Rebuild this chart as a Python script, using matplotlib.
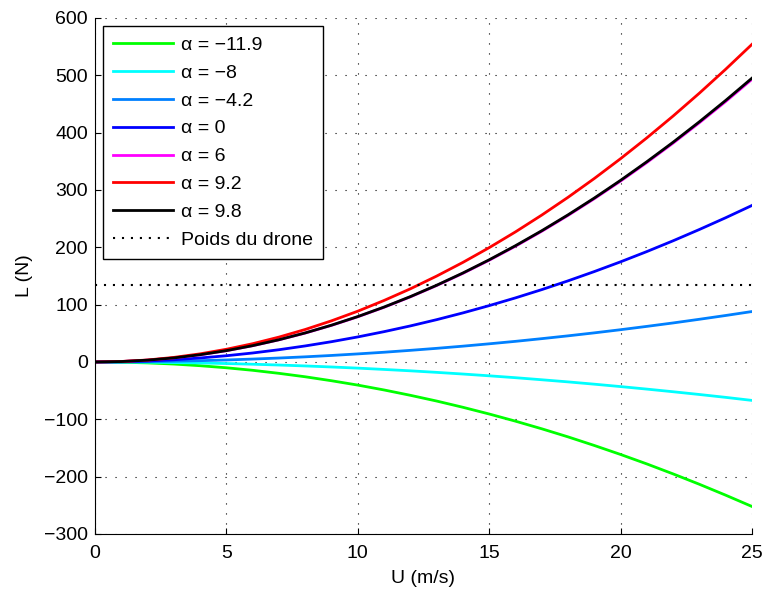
import numpy as np
import matplotlib
matplotlib.use('Agg')
import matplotlib.pyplot as plt

plt.rcParams['font.family'] = ['Liberation Sans', 'DejaVu Sans']

# vitesse (m/s)
U = list(range(0, 26))

L_m119 = [0, -0.4, -1.6, -3.6, -6.5, -10.1, -14.5, -19.8, -25.8, -32.7, -40.3, -48.8, -58.1,
          -68.1, -79.0, -90.7, -103.2, -116.5, -130.6, -145.6, -161.3, -177.8, -195.2,
          -213.3, -232.3, -252.0]
L_m8 = [0, -0.1, -0.4, -1.0, -1.7, -2.7, -3.9, -5.3, -6.9, -8.7, -10.7, -13.0, -15.4, -18.1,
        -21.0, -24.1, -27.4, -31.0, -34.7, -38.7, -42.9, -47.3, -51.9, -56.7, -61.7, -67.0]
L_m42 = [0, 0.1, 0.6, 1.3, 2.3, 3.5, 5.1, 6.9, 9.0, 11.4, 14.1, 17.0, 20.3, 23.8, 27.6, 31.7,
         36.0, 40.7, 45.6, 50.8, 56.3, 62.1, 68.1, 74.5, 81.1, 88.0]
L_0 = [0, 0.4, 1.7, 3.9, 7.0, 10.9, 15.7, 21.4, 28.0, 35.4, 43.7, 52.9, 62.9, 73.8, 85.6, 98.3,
       111.8, 126.2, 141.5, 157.7, 174.7, 192.6, 211.4, 231.1, 251.6, 273.0]
L_6 = [0, 0.8, 3.2, 7.1, 12.6, 19.7, 28.4, 38.7, 50.5, 63.9, 78.9, 95.4, 113.6, 133.3, 154.6,
       177.5, 201.9, 228.0, 255.6, 284.8, 315.5, 347.9, 381.8, 417.3, 454.3, 493.0]
L_92 = [0, 0.9, 3.5, 8.0, 14.2, 22.2, 31.9, 43.4, 56.7, 71.8, 88.6, 107.3, 127.6, 149.8, 173.7,
        199.4, 226.9, 256.2, 287.2, 320.0, 354.6, 390.9, 429.0, 468.9, 510.6, 554.0]
L_98 = [0, 0.8, 3.2, 7.1, 12.7, 19.8, 28.5, 38.8, 50.7, 64.2, 79.2, 95.8, 114.0, 133.8, 155.2,
        178.2, 202.8, 228.9, 256.6, 285.9, 316.8, 349.3, 383.3, 419.0, 456.2, 495.0]

poids = 135.0

series = [L_m119, L_m8, L_m42, L_0, L_6, L_92, L_98]
labels = ['α = −11.9', 'α = −8', 'α = −4.2', 'α = 0', 'α = 6', 'α = 9.2', 'α = 9.8']
colors = ['#00ff00', '#00ffff', '#0080ff', '#0000ff', '#ff00ff', '#ff0000', '#000000']

fs = 14

fig = plt.figure(figsize=(7.63, 5.92), dpi=100)
ax = fig.add_axes([0.1245, 0.098, 0.861, 0.8716])

for L, lab, c in zip(series, labels, colors):
    ax.plot(U, L, color=c, lw=2, label=lab)
ax.plot([0, 25], [poids, poids], color='black', lw=1.5, ls=(0, (1, 3.3)),
        label='Poids du drone')

ax.set_xlim(0, 25)
ax.set_ylim(-300, 600)
ax.set_xticks(np.arange(0, 26, 5))
ax.set_yticks(np.arange(-300, 601, 100))
ax.set_yticklabels([str(v).replace('-', '−') for v in range(-300, 601, 100)])
ax.tick_params(direction='in', length=4, width=0.8, labelsize=fs)
ax.tick_params(axis='x', pad=8)
ax.tick_params(axis='y', pad=5)
ax.grid(True, color='black', lw=0.8, ls=(0, (1, 8)))
ax.spines['top'].set_visible(False)
ax.spines['right'].set_visible(False)
ax.set_xlabel('U (m/s)', fontsize=fs, labelpad=6)
ax.set_ylabel('L (N)', fontsize=fs, labelpad=8)

leg = ax.legend(loc='upper left', fontsize=fs, handlelength=3.1, handletextpad=0.4,
                labelspacing=0.53, borderaxespad=0.4, borderpad=0.53,
                fancybox=False, framealpha=1, edgecolor='black')
leg.get_frame().set_linewidth(1.0)

fig.savefig('out.png', dpi=100)
